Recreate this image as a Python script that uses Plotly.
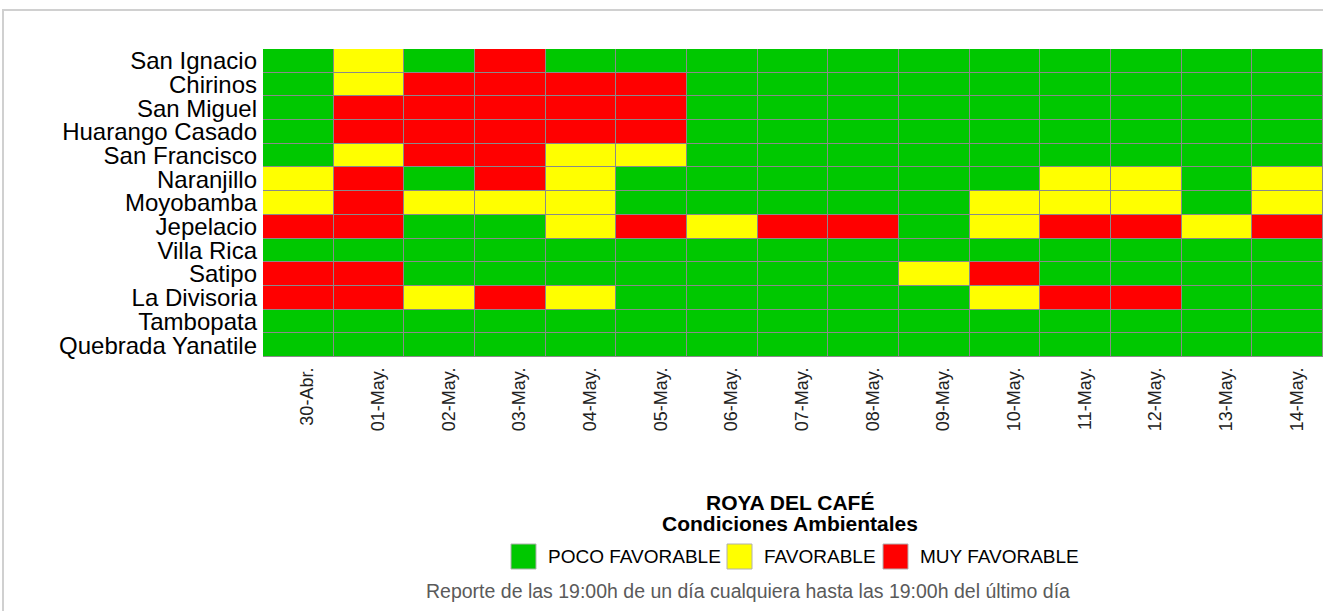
import plotly.graph_objects as go

dates = ["30-Abr.", "01-May.", "02-May.", "03-May.", "04-May.", "05-May.", "06-May.",
         "07-May.", "08-May.", "09-May.", "10-May.", "11-May.", "12-May.", "13-May.", "14-May."]
locations = ["San Ignacio", "Chirinos", "San Miguel", "Huarango Casado", "San Francisco",
             "Naranjillo", "Moyobamba", "Jepelacio", "Villa Rica", "Satipo", "La Divisoria",
             "Tambopata", "Quebrada Yanatile"]
# 0 = POCO FAVORABLE, 1 = FAVORABLE, 2 = MUY FAVORABLE
san_ignacio = [0, 1, 0, 2, 0, 0, 0, 0, 0, 0, 0, 0, 0, 0, 0]
chirinos = [0, 1, 2, 2, 2, 2, 0, 0, 0, 0, 0, 0, 0, 0, 0]
san_miguel = [0, 2, 2, 2, 2, 2, 0, 0, 0, 0, 0, 0, 0, 0, 0]
huarango_casado = [0, 2, 2, 2, 2, 2, 0, 0, 0, 0, 0, 0, 0, 0, 0]
san_francisco = [0, 1, 2, 2, 1, 1, 0, 0, 0, 0, 0, 0, 0, 0, 0]
naranjillo = [1, 2, 0, 2, 1, 0, 0, 0, 0, 0, 0, 1, 1, 0, 1]
moyobamba = [1, 2, 1, 1, 1, 0, 0, 0, 0, 0, 1, 1, 1, 0, 1]
jepelacio = [2, 2, 0, 0, 1, 2, 1, 2, 2, 0, 1, 2, 2, 1, 2]
villa_rica = [0, 0, 0, 0, 0, 0, 0, 0, 0, 0, 0, 0, 0, 0, 0]
satipo = [2, 2, 0, 0, 0, 0, 0, 0, 0, 1, 2, 0, 0, 0, 0]
la_divisoria = [2, 2, 1, 2, 1, 0, 0, 0, 0, 0, 1, 2, 2, 0, 0]
tambopata = [0, 0, 0, 0, 0, 0, 0, 0, 0, 0, 0, 0, 0, 0, 0]
quebrada_yanatile = [0, 0, 0, 0, 0, 0, 0, 0, 0, 0, 0, 0, 0, 0, 0]

levels = ["POCO FAVORABLE", "FAVORABLE", "MUY FAVORABLE"]
level_colors = ["#00c800", "#ffff00", "#ff0000"]

z = [san_ignacio, chirinos, san_miguel, huarango_casado, san_francisco, naranjillo,
     moyobamba, jepelacio, villa_rica, satipo, la_divisoria, tambopata, quebrada_yanatile]

colorscale = [[0, level_colors[0]], [1/3, level_colors[0]],
              [1/3, level_colors[1]], [2/3, level_colors[1]],
              [2/3, level_colors[2]], [1, level_colors[2]]]

FONT = "Liberation Sans, Arial, sans-serif"

fig = go.Figure()
fig.add_trace(go.Heatmap(
    z=z, x=dates, y=locations, zmin=0, zmax=2, colorscale=colorscale,
    showscale=False, xgap=1, ygap=1,
))

W, H = 1323, 611
L, R, T, B = 263, 0, 49, 254
pw, ph = W - L - R, H - T - B


def px_x(p):
    return (p - L) / pw


def px_y(p):
    return (H - B - p) / ph


annotations = [
    dict(text="<b>ROYA DEL CAFÉ</b>", x=px_x(790), y=px_y(502)),
    dict(text="<b>Condiciones Ambientales</b>", x=px_x(790), y=px_y(523)),
]
for a in annotations:
    a.update(xref="paper", yref="paper", showarrow=False, xanchor="center",
             yanchor="middle", font=dict(size=21, color="black"))

shapes = [dict(
    type="rect", xref="paper", yref="paper", x0=px_x(3), x1=px_x(W + 10),
    y0=px_y(H + 10), y1=px_y(10), line=dict(color="#d0d0d0", width=2),
    fillcolor="rgba(0,0,0,0)", layer="above",
)]

# manual legend (swatch left edge, label left edge)
swatch_x = [511, 727, 883]
label_x = [546, 762, 918]
sw = 25
sy0, sy1 = 544, 569
for name, col, sx, lx in zip(levels, level_colors, swatch_x, label_x):
    shapes.append(dict(type="rect", xref="paper", yref="paper",
                       x0=px_x(sx), x1=px_x(sx + sw), y0=px_y(sy1), y1=px_y(sy0),
                       fillcolor=col, line=dict(color="#b0b0b0", width=1)))
    annotations.append(dict(text=name, xref="paper", yref="paper", x=px_x(lx),
                            y=px_y((sy0 + sy1) / 2), showarrow=False, xanchor="left",
                            yanchor="middle", font=dict(size=19, color="black")))

annotations.append(dict(
    text="Reporte de las 19:00h de un día cualquiera hasta las 19:00h del último día",
    xref="paper", yref="paper", x=px_x(748), y=px_y(591), showarrow=False,
    xanchor="center", yanchor="middle", font=dict(size=19.5, color="#5a5a5a"),
))

fig.update_layout(
    width=W, height=H,
    margin=dict(l=L, r=R, t=T, b=B),
    paper_bgcolor="white", plot_bgcolor="#8a8a8a",
    font=dict(family=FONT, color="black"),
    xaxis=dict(type="category", tickangle=-90, showgrid=False, zeroline=False,
               tickmode="array", tickvals=dates, ticktext=dates,
               tickfont=dict(size=18, color="#222222"), ticks="",
               ticklabelshift=9, ticklabelstandoff=6, fixedrange=True),
    yaxis=dict(type="category", autorange="reversed", showgrid=False, zeroline=False,
               tickmode="array", tickvals=locations, ticktext=locations,
               tickfont=dict(size=24, color="black"), ticks="",
               ticklabelstandoff=5, fixedrange=True),
    showlegend=False,
    annotations=annotations,
    shapes=shapes,
)

fig.write_html("out.html", config={"displayModeBar": False},
               post_script="document.body.style.margin='0';")
